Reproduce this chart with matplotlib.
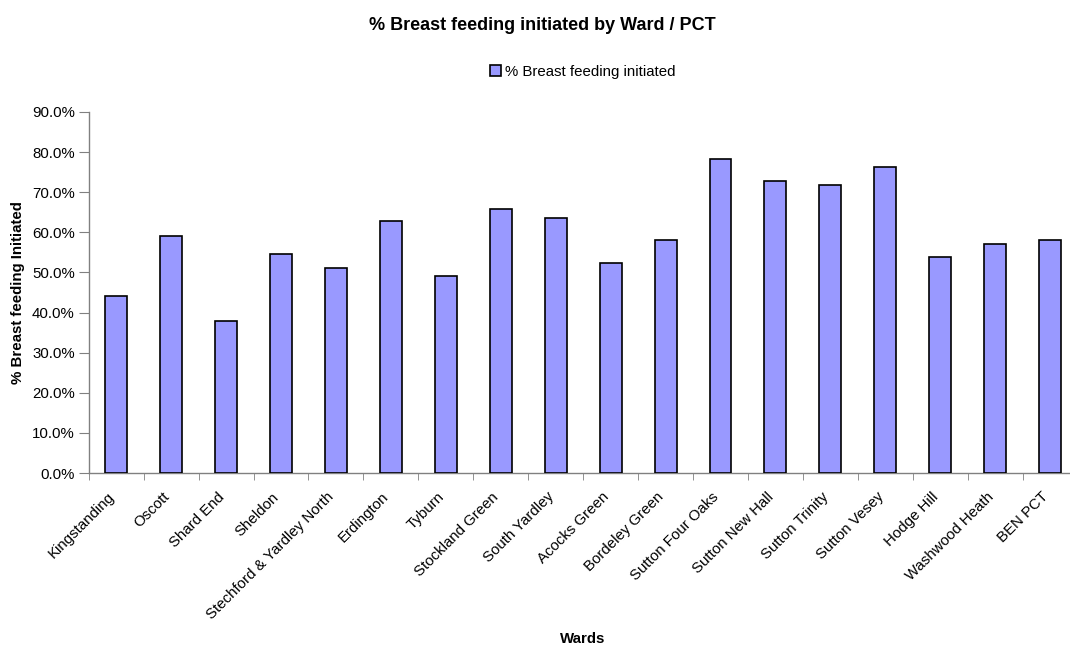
import matplotlib
matplotlib.use("Agg")
import matplotlib.pyplot as plt
import matplotlib.transforms as mtransforms
from matplotlib.ticker import FuncFormatter, FixedLocator
import numpy as np

plt.rcParams['font.family'] = ['Liberation Sans', 'DejaVu Sans']

wards = [
    "Kingstanding", "Oscott", "Shard End", "Sheldon", "Stechford & Yardley North",
    "Erdington", "Tyburn", "Stockland Green", "South Yardley", "Acocks Green",
    "Bordeley Green", "Sutton Four Oaks", "Sutton New Hall", "Sutton Trinity",
    "Sutton Vesey", "Hodge Hill", "Washwood Heath", "BEN PCT",
]
pct_initiated = [
    44.1, 59.0, 37.8, 54.7, 51.2, 62.7, 49.2, 65.7, 63.5, 52.3,
    58.0, 78.4, 72.9, 71.7, 76.2, 53.8, 57.0, 58.1,
]

fig = plt.figure(figsize=(10.7, 6.48), dpi=100)
# plot area runs slightly past the right edge of the figure
ax = fig.add_axes([0.0829, 0.270, 0.9242, 0.5572])

x = np.arange(len(wards))
ax.bar(x, pct_initiated, width=0.4, color="#9999FF", edgecolor="black",
       linewidth=1.2, label="% Breast feeding initiated", zorder=3)

ax.set_xlim(-0.5, len(wards) - 0.5)
ax.set_ylim(0, 90)
ax.yaxis.set_major_locator(FixedLocator(np.arange(0, 91, 10)))
ax.yaxis.set_major_formatter(FuncFormatter(lambda v, p: f"{v:.1f}%"))

ax.set_xticks(x)
ax.set_xticklabels(wards, rotation=45, ha="right", rotation_mode="anchor",
                   fontsize=10.8)
ax.tick_params(axis="x", which="major", length=0, pad=12)
shift = mtransforms.ScaledTranslation(-9 / 100, 0, fig.dpi_scale_trans)
for lbl in ax.get_xticklabels():
    lbl.set_transform(lbl.get_transform() + shift)
ax.set_xticks(np.arange(-0.5, len(wards), 1.0), minor=True)
ax.tick_params(axis="x", which="minor", length=5, direction="out", color="#808080")
ax.tick_params(axis="y", length=7, direction="out", color="#808080",
               labelsize=10.8, pad=3)

for side in ("top", "right"):
    ax.spines[side].set_visible(False)
for side in ("left", "bottom"):
    ax.spines[side].set_color("#808080")
    ax.spines[side].set_linewidth(1.0)

fig.text(0.0168, 0.549, "% Breast feeding Initiated", rotation=90, ha="center",
         va="center", fontsize=10.8, fontweight="bold")
fig.text(0.545, 0.0139, "Wards", ha="center", va="center", fontsize=10.8,
         fontweight="bold")
fig.text(0.507, 0.9614, "% Breast feeding initiated by Ward / PCT", ha="center",
         va="center", fontsize=13, fontweight="bold")

fig.legend(loc="center", bbox_to_anchor=(0.545, 0.889), frameon=False,
           fontsize=10.8, handlelength=0.7, handleheight=0.7, handletextpad=0.3)

fig.savefig("out.png", dpi=100)
